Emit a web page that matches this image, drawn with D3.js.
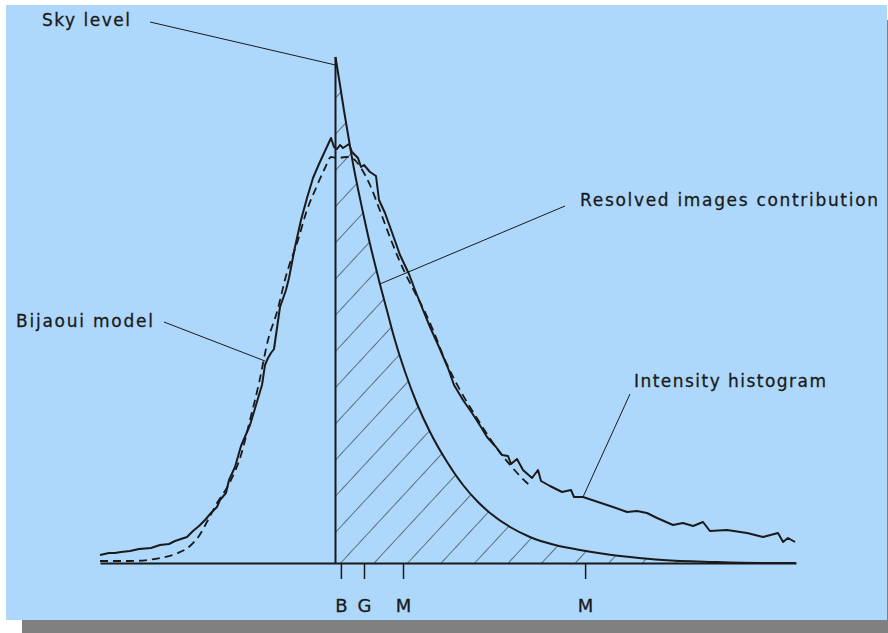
<!DOCTYPE html>
<html>
<head>
<meta charset="utf-8">
<script src="https://cdn.jsdelivr.net/npm/d3@7"></script>
<style>
  body { margin: 0; background: #fff; }
  svg { display: block; }
  text { font-family: "DejaVu Sans", sans-serif; fill: #1a1a1a; }
</style>
</head>
<body>
<div id="chart"></div>
<script>
// intensity (x) / counts (y), arbitrary units
var histX = [0, 3, 5, 7, 10, 13, 17, 20, 23, 25, 27, 29, 31, 33, 35, 37, 39, 40, 42, 43, 45, 47, 50, 52, 54, 55, 56, 57, 58, 60, 62, 63, 65, 67, 69, 71, 73, 75, 77, 78, 79, 80, 81, 83, 84, 86, 87, 88, 90, 92, 93, 95, 98, 100, 103, 105, 107, 110, 113, 116, 118, 121, 124, 127, 129, 132, 134, 136, 137, 139, 141, 144, 146, 147, 150, 154, 157, 158, 161, 166, 171, 175.7, 179, 182.3, 185.7, 191, 194.3, 197.7, 201, 203.3, 209, 215.7, 221, 226, 227.7, 229.3, 231.7];
var histY = [4, 5, 5, 5.5, 6, 7, 7.5, 9, 9.5, 11, 12, 13, 16, 18.5, 21.5, 25, 28, 31.5, 35, 41.5, 48, 58.5, 69, 79, 89, 99, 102.5, 105, 107, 128, 136.5, 142.5, 158, 171.5, 182.5, 192.5, 199.5, 206, 212.5, 208, 207, 209, 207.5, 209.5, 205.5, 202.5, 198, 199, 195.5, 193.5, 181.5, 175, 162.5, 154, 144.5, 136.5, 129, 118, 108, 97.5, 89, 81.5, 75, 68, 63, 58, 54, 53.5, 49.5, 52, 46.5, 42.5, 46.5, 41, 38.5, 35.5, 36.5, 33, 33, 30.5, 28, 25.5, 26, 25, 22.5, 19, 20, 18.5, 20.5, 16, 16.5, 15, 13, 15, 10.5, 12.5, 10.5];

var modelX = [0, 10, 20, 26, 30, 33, 36, 39, 43, 47, 50, 53, 56, 59, 62, 66, 69, 72, 75, 77, 79, 82, 84, 87, 90, 93, 97, 100, 104, 108, 111, 115, 120, 125, 131, 137, 142, 144];
var modelY = [1, 1, 2.5, 5, 8.5, 13.5, 21.5, 30, 39.5, 54, 71.5, 90, 111.5, 125.5, 143.5, 161.5, 176.5, 187.5, 197.5, 203, 202.5, 203, 202.5, 197.5, 189, 177.5, 161.5, 150.5, 138, 126.5, 116.5, 101.5, 86.5, 74, 60, 48.5, 40.5, 38];

var skyLevel = 78.5;
var resolvedX = [78.5, 80, 81.3, 82.7, 84.3, 86, 87.7, 89.3, 91.3, 93.3, 95.7, 98.3, 101.7, 105.7, 110, 115.7, 121, 126, 130, 136.7, 143.3, 151.7, 160, 168.3, 176.7, 187.7, 204.3, 220, 232];
var resolvedY = [253, 239, 226.5, 214, 200, 187, 175, 164, 151.5, 139.5, 126, 111.5, 95.5, 79.5, 65.5, 50.5, 39, 30.5, 25, 18, 13, 9, 6.5, 4.5, 3, 1.5, 0.5, 0, 0];

var tickValues = [80.3, 88, 101, 161.7];
var tickLabels = ["B", "G", "M", "M"];

var W = 888, H = 633;
var ink = "#1a1a1a";

var svg = d3.select("#chart").append("svg").attr("width", W).attr("height", H);

// shadow + panel
svg.append("rect").attr("x", 22).attr("y", 20).attr("width", W - 22).attr("height", H - 20).attr("fill", "#808080");
svg.append("rect").attr("x", 6).attr("y", 5).attr("width", 881).attr("height", 615).attr("fill", "#add8fc");

var x = d3.scaleLinear().domain([0, 232]).range([100, 796]);
var y = d3.scaleLinear().domain([0, 253]).range([563, 57]);

var hist = histX.map(function (d, i) { return [d, histY[i]]; });
var model = modelX.map(function (d, i) { return [d, modelY[i]]; });
var resolved = resolvedX.map(function (d, i) { return [d, resolvedY[i]]; });

var line = d3.line().x(function (d) { return x(d[0]); }).y(function (d) { return y(d[1]); });
var smooth = d3.line().curve(d3.curveMonotoneX)
    .x(function (d) { return x(d[0]); }).y(function (d) { return y(d[1]); });

// hatch pattern for the resolved images area
var defs = svg.append("defs");
var pat = defs.append("pattern")
    .attr("id", "hatch")
    .attr("patternUnits", "userSpaceOnUse")
    .attr("width", 24.6)
    .attr("height", 20)
    .attr("patternTransform", "translate(" + x(80) + "," + y(0) + ") rotate(42.8)");
pat.append("line")
    .attr("x1", 0).attr("y1", -5).attr("x2", 0).attr("y2", 25)
    .attr("stroke", ink).attr("stroke-width", 1.1);

var area = d3.area().curve(d3.curveMonotoneX)
    .x(function (d) { return x(d[0]); })
    .y0(y(0))
    .y1(function (d) { return y(d[1]); });

svg.append("path")
    .datum(resolved)
    .attr("d", area)
    .attr("fill", "url(#hatch)");

// x axis: baseline with the B G M marks
var axis = d3.axisBottom(x)
    .tickValues(tickValues)
    .tickFormat(function (d, i) { return tickLabels[i]; })
    .tickSize(16)
    .tickSizeOuter(0)
    .tickPadding(20);

var gx = svg.append("g").attr("transform", "translate(0," + y(0) + ")").call(axis);
gx.select(".domain").attr("stroke", ink).attr("stroke-width", 2);
gx.selectAll(".tick line").attr("stroke", ink).attr("stroke-width", 1.5);
gx.selectAll(".tick text")
    .attr("fill", ink)
    .attr("stroke", ink)
    .attr("stroke-width", 0.3)
    .style("font-family", "'DejaVu Sans', sans-serif")
    .style("font-size", "18px");

// sky level line
svg.append("line")
    .attr("x1", x(skyLevel)).attr("y1", y(0))
    .attr("x2", x(skyLevel)).attr("y2", y(resolvedY[0]))
    .attr("stroke", ink).attr("stroke-width", 2);

// curves
svg.append("path").datum(resolved).attr("d", smooth)
    .attr("fill", "none").attr("stroke", ink).attr("stroke-width", 2);
svg.append("path").datum(model).attr("d", smooth)
    .attr("fill", "none").attr("stroke", ink).attr("stroke-width", 1.8)
    .attr("stroke-dasharray", "8,5");
svg.append("path").datum(hist).attr("d", line)
    .attr("fill", "none").attr("stroke", ink).attr("stroke-width", 2)
    .attr("stroke-linejoin", "round");

// annotations: label text + leader to a point on a curve
var notes = [
    { text: "Sky level", tx: 42, ty: 26, w: 88, lx: 150, ly: 22, px: skyLevel, py: 249 },
    { text: "Resolved images contribution", tx: 580, ty: 206, w: 298, lx: 565, ly: 206, px: 93.3, py: 139.5 },
    { text: "Intensity histogram", tx: 634, ty: 387, w: 192, lx: 630, ly: 394, px: 161, py: 33 },
    { text: "Bijaoui model", tx: 16, ty: 327, w: 137, lx: 164, ly: 322, px: 55, py: 101 }
];

notes.forEach(function (n) {
    svg.append("line")
        .attr("x1", n.lx).attr("y1", n.ly)
        .attr("x2", x(n.px)).attr("y2", y(n.py))
        .attr("stroke", ink).attr("stroke-width", 1);
    svg.append("text")
        .attr("x", n.tx).attr("y", n.ty)
        .attr("textLength", n.w)
        .attr("lengthAdjust", "spacing")
        .attr("stroke", ink)
        .attr("stroke-width", 0.3)
        .style("font-size", "17px")
        .text(n.text);
});
</script>
</body>
</html>
